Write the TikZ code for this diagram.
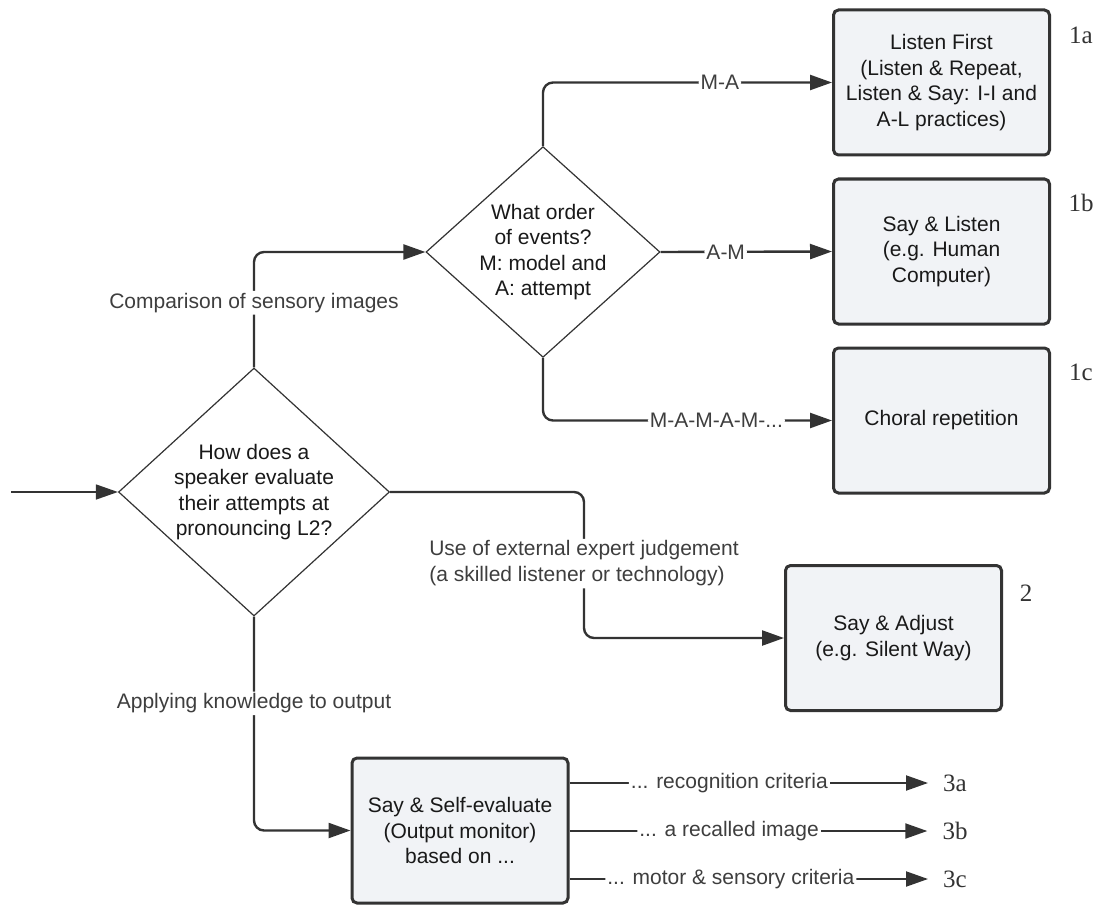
\documentclass[tikz,border=0pt]{standalone}
\usepackage{fontspec}
\newfontfamily\lucid{Liberation Sans}
\newfontfamily\tagserif{Liberation Serif}
\usetikzlibrary{shapes.geometric,arrows.meta}
\definecolor{linegray}{RGB}{51,51,51}
\definecolor{labelgray}{RGB}{62,62,62}
\definecolor{boxfill}{RGB}{241,243,246}
\def\boxfont{\lucid\fontsize{21}{25.5}\selectfont}

\begin{document}
\begin{tikzpicture}[x=1pt,y=-1pt]
\tikzstyle{box}=[draw=linegray, line width=3pt, fill=boxfill, rectangle, rounded corners=5pt, align=center, minimum width=216pt, minimum height=145pt, inner sep=3pt, font=\boxfont, text=black!90]
\tikzstyle{decision}=[draw=linegray, line width=1.2pt, fill=white, diamond, align=center, inner sep=0pt, font=\boxfont, text=black!90]
\tikzstyle{lab}=[fill=white, inner sep=2pt, text=labelgray, align=left, font=\lucid\fontsize{21}{26}\selectfont]
\tikzstyle{conn}=[draw=linegray, line width=2.4pt, rounded corners=10pt]
\tikzstyle{tip}=[-{Triangle[length=22pt,width=15pt]}]
\tikzstyle{tag}=[inner sep=2pt, text=linegray, font=\tagserif\fontsize{25}{28}\selectfont]

\useasboundingbox (0,0) rectangle (1099,904);

% Questions
\node[decision, minimum width=271pt, minimum height=248pt, aspect=1.09] (evaluate) at (254,492) {How does a\\speaker evaluate\\their attempts at\\pronouncing L2?};
\node[decision, minimum width=234pt, minimum height=210pt, aspect=1.11] (order) at (543,252) {What order\\of events?\\M: model and\\A: attempt};

% Methods
\node[box] (listenfirst) at (941.5,82.5) {Listen First\\(Listen \& Repeat,\\Listen \& Say: I-I and\\A-L practices)};
\node[box] (saylisten) at (941.5,251.5) {Say \& Listen\\(e.g. Human\\Computer)};
\node[box] (choral) at (941.5,420.5) {Choral repetition};
\node[box] (sayadjust) at (893.5,638) {Say \& Adjust\\(e.g. Silent Way)};
\node[box] (selfeval) at (460,830.5) {Say \& Self-evaluate\\(Output monitor)\\based on ...};

% numbering
\node[tag] (tag1a) at (1081,35) {1a};
\node[tag] (tag1b) at (1081,203) {1b};
\node[tag] (tag1c) at (1081,372) {1c};
\node[tag] (tag2) at (1026,593) {2};
\node[tag] (tag3a) at (955,783) {3a};
\node[tag] (tag3b) at (955,831) {3b};
\node[tag] (tag3c) at (955,879) {3c};

% connectors
\coordinate (entry) at (11,492);
\draw[conn, line width=1.5pt, tip] (entry) -- (evaluate.west);
\draw[conn, tip] (evaluate.north) |- node[lab,pos=.28]{Comparison of sensory images} (order.west);
\draw[conn, tip] (evaluate.east) -| node[lab,pos=.745]{Use of external expert judgement\\(a skilled listener or technology)} ([xshift=-200pt]sayadjust.west) -- (sayadjust.west);
\draw[conn, tip] (evaluate.south) |- node[lab,pos=.203]{Applying knowledge to output} (selfeval.west);

\draw[conn, tip] (order.north) |- node[lab,pos=.806]{M-A} (listenfirst.west);
\draw[conn, tip] (order.east) -- node[lab,pos=.38]{A-M} (saylisten.west);
\draw[conn, tip] (order.south) |- node[lab,pos=.80]{M-A-M-A-M-...} (choral.west);

\draw[conn, line width=2pt, tip] (selfeval.east |- tag3a) -- node[lab,pos=.446]{... recognition criteria} ([xshift=-13pt]tag3a.west);
\draw[conn, line width=2pt, tip] (selfeval.east |- tag3b) -- node[lab,pos=.446]{... a recalled image} ([xshift=-13pt]tag3b.west);
\draw[conn, line width=2pt, tip] (selfeval.east |- tag3c) -- node[lab,pos=.45]{... motor \& sensory criteria} ([xshift=-13pt]tag3c.west);

\end{tikzpicture}
\end{document}
